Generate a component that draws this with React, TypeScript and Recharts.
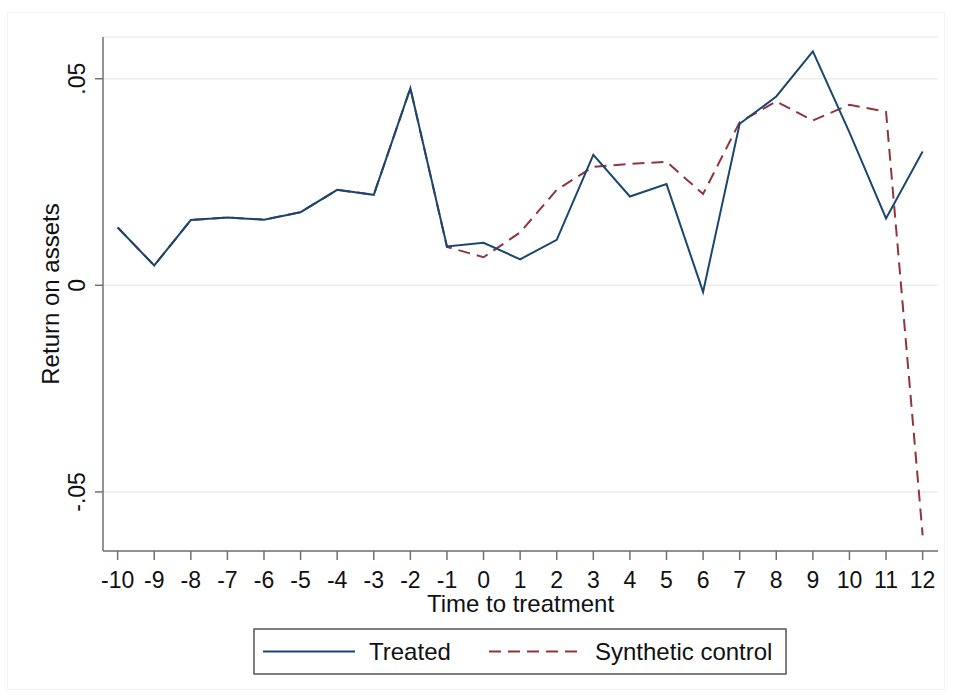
import React from 'react';
import { LineChart, Line, XAxis, YAxis, CartesianGrid } from 'recharts';

// time to treatment (years)
const periods: number[] = [
  -10, -9, -8, -7, -6, -5, -4, -3, -2, -1, 0, 1, 2, 3, 4, 5, 6, 7, 8, 9, 10, 11, 12,
];

const treated: number[] = [
  0.0140, 0.0048, 0.0158, 0.0164, 0.0159, 0.0177, 0.0231, 0.0219, 0.0477, 0.0094,
  0.0103, 0.0063, 0.0110, 0.0316, 0.0215, 0.0245, -0.0016, 0.0391, 0.0457, 0.0566,
  0.0370, 0.0162, 0.0324,
];

const synthetic: number[] = [
  0.0140, 0.0048, 0.0158, 0.0164, 0.0159, 0.0177, 0.0231, 0.0219, 0.0477, 0.0093,
  0.0068, 0.0128, 0.0231, 0.0287, 0.0294, 0.0299, 0.0221, 0.0395, 0.0445, 0.0399,
  0.0437, 0.0420, -0.0605,
];

const yTicks: number[] = [-0.05, 0, 0.05];
const yTickLabels: string[] = ['-.05', '0', '.05'];

const seriesNames: string[] = ['Treated', 'Synthetic control'];

const NAVY = '#1a476f';
const MAROON = '#90353b';
const AXIS = '#707070';
const FONT = '"Liberation Sans", Arial, sans-serif';
const TICK_SIZE = 23;
const TITLE_SIZE = 24;

const data = periods.map((t, i) => ({
  t,
  treated: treated[i],
  synthetic: synthetic[i],
}));

function XTick(props: any): React.JSX.Element {
  const { x, y, payload } = props;
  return (
    <text x={x} y={y + 26} textAnchor="middle" fontSize={TICK_SIZE} fontFamily={FONT} fill="#111">
      {payload.value}
    </text>
  );
}

function YTick(props: any): React.JSX.Element {
  const { x, y, payload } = props;
  const idx = yTicks.indexOf(payload.value);
  const label = idx >= 0 ? yTickLabels[idx] : String(payload.value);
  return (
    <text
      x={x}
      y={y}
      transform={`rotate(-90, ${x}, ${y})`}
      textAnchor="middle"
      fontSize={TICK_SIZE}
      fontFamily={FONT}
      fill="#111"
    >
      {label}
    </text>
  );
}

function YTitle(props: any): React.JSX.Element {
  const vb = props.viewBox || { y: 37, height: 514 };
  const cx = 59;
  const cy = vb.y + vb.height / 2;
  return (
    <text
      x={cx}
      y={cy}
      transform={`rotate(-90, ${cx}, ${cy})`}
      textAnchor="middle"
      fontSize={TITLE_SIZE}
      fontFamily={FONT}
      fill="#111"
    >
      Return on assets
    </text>
  );
}

function LegendBox(): React.JSX.Element {
  return (
    <svg
      width={535}
      height={48}
      style={{ position: 'absolute', left: 253, top: 628 }}
    >
      <rect x={1} y={1} width={532} height={45} fill="#fff" stroke="#555" strokeWidth={1.5} />
      <line x1={10} x2={102} y1={23.5} y2={23.5} stroke={NAVY} strokeWidth={2} />
      <text x={116} y={32} fontSize={TITLE_SIZE} fontFamily={FONT} fill="#111">
        {seriesNames[0]}
      </text>
      <line
        x1={236}
        x2={326}
        y1={23.5}
        y2={23.5}
        stroke={MAROON}
        strokeWidth={2}
        strokeDasharray="12 7"
      />
      <text x={342} y={32} fontSize={TITLE_SIZE} fontFamily={FONT} fill="#111">
        {seriesNames[1]}
      </text>
    </svg>
  );
}

export default function App(): React.JSX.Element {
  return (
    <div
      style={{
        position: 'absolute',
        left: 0,
        top: 0,
        width: 953,
        height: 698,
        background: '#fff',
        fontFamily: FONT,
      }}
    >
      <div
        style={{
          position: 'absolute',
          left: 7,
          top: 12,
          width: 938,
          height: 678,
          border: '1px solid #f3f3f3',
          boxSizing: 'border-box',
        }}
      />
      <div style={{ position: 'absolute', left: 0, top: 0 }}>
        <LineChart
          width={953}
          height={698}
          data={data}
          margin={{ top: 37, right: 15, left: 38, bottom: 85 }}
        >
          <CartesianGrid vertical={false} stroke="#ececec" strokeWidth={1.5} />
          <XAxis
            dataKey="t"
            type="number"
            domain={[-10.4, 12.42]}
            ticks={periods}
            interval={0}
            height={62}
            tickSize={9}
            tickMargin={2}
            stroke={AXIS}
            strokeWidth={1.5}
            tickLine={{ stroke: AXIS, strokeWidth: 1.5 }}
            tick={<XTick />}
            label={{
              value: 'Time to treatment',
              position: 'insideBottom',
              offset: 1,
              fontSize: TITLE_SIZE,
              fontFamily: FONT,
              fill: '#111',
            }}
          />
          <YAxis
            type="number"
            domain={[-0.0643, 0.0601]}
            ticks={yTicks}
            width={65}
            tickSize={8}
            tickMargin={10}
            stroke={AXIS}
            strokeWidth={1.5}
            tickLine={{ stroke: AXIS, strokeWidth: 1.5 }}
            tick={<YTick />}
            allowDataOverflow
            label={<YTitle />}
          />
          <Line
            dataKey="synthetic"
            type="linear"
            stroke={MAROON}
            strokeWidth={2}
            strokeDasharray="12 7"
            dot={false}
            activeDot={false}
            isAnimationActive={false}
          />
          <Line
            dataKey="treated"
            type="linear"
            stroke={NAVY}
            strokeWidth={2}
            dot={false}
            activeDot={false}
            isAnimationActive={false}
          />
        </LineChart>
      </div>
      <LegendBox />
    </div>
  );
}
